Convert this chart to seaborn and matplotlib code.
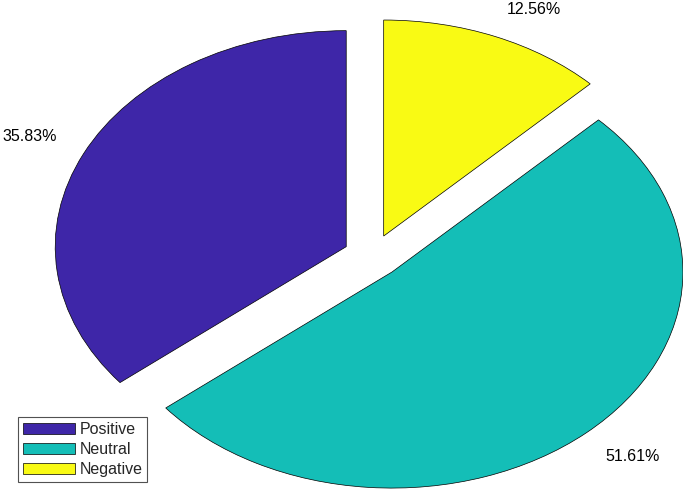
import numpy as np
import seaborn as sns
import matplotlib.pyplot as plt

# sentiment shares
labels = ['Positive', 'Neutral', 'Negative']
shares = [35.83, 51.61, 12.56]
pct_text = ['35.83%', '51.61%', '12.56%']
colors = ['#3E26A8', '#14BEB7', '#F9FA14']

sns.set_theme(style='white')
plt.rcParams['font.family'] = ['Liberation Sans', 'DejaVu Sans']

fig = plt.figure(figsize=(6.83, 4.91), dpi=100)
ax = fig.add_axes([0, 0, 1, 1])

wedges, texts = ax.pie(shares, labels=pct_text, colors=colors,
                       explode=[0.1] * 3, startangle=90, counterclock=True,
                       labeldistance=1.1,
                       wedgeprops=dict(edgecolor='black', linewidth=0.5),
                       textprops=dict(fontsize=11.5, color='black'))

for t in texts:
    x, y = t.get_position()
    t.set_ha('left' if x > 0 else 'right')
    t.set_va('bottom' if y > 0 else 'top')

ax.set_aspect('auto')
ax.set_xlim(-1.28, 1.067)
ax.set_ylim(-1.088, 1.185)
ax.axis('off')

leg = ax.legend(wedges, labels, loc='lower left', bbox_to_anchor=(0.026, 0.018),
                bbox_transform=fig.transFigure, borderaxespad=0,
                fontsize=11.5, frameon=True, fancybox=False,
                handlelength=3.3, handleheight=0.7, handletextpad=0.25,
                labelspacing=0.32, borderpad=0.3)
leg.get_frame().set_edgecolor('#262626')
leg.get_frame().set_linewidth(0.8)

fig.savefig('out.png', dpi=100)
